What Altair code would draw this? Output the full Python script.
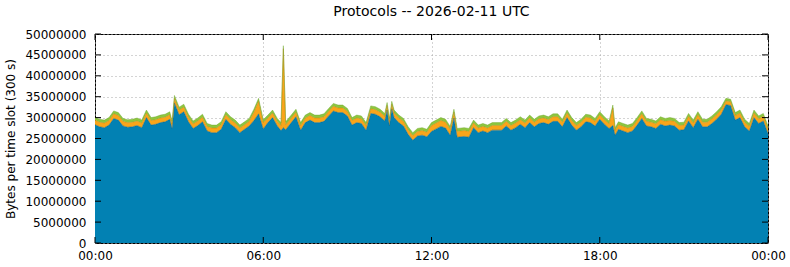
import altair as alt
import pandas as pd

# time of day in minutes
minutes = [
    0, 10, 20, 30, 40, 50, 60, 70, 80, 90,
    100, 110, 120, 130, 140, 150, 160, 165, 170, 180,
    190, 200, 210, 220, 230, 240, 250, 260, 270, 280,
    290, 300, 310, 320, 330, 340, 350, 360, 370, 380,
    390, 398, 403, 408, 420, 430, 440, 450, 460, 470,
    480, 490, 500, 510, 520, 530, 540, 550, 560, 570,
    580, 590, 600, 610, 620, 625, 630, 635, 640, 650,
    660, 670, 680, 690, 700, 710, 720, 730, 740, 750,
    760, 768, 775, 790, 800, 810, 820, 830, 840, 850,
    860, 870, 880, 890, 900, 910, 920, 930, 940, 950,
    960, 970, 980, 990, 1000, 1010, 1020, 1030, 1040, 1050,
    1060, 1070, 1080, 1090, 1100, 1108, 1113, 1120, 1130, 1140,
    1150, 1160, 1170, 1180, 1190, 1200, 1210, 1220, 1230, 1240,
    1250, 1260, 1270, 1280, 1290, 1300, 1310, 1320, 1330, 1340,
    1350, 1360, 1370, 1380, 1390, 1400, 1410, 1420, 1430, 1440,
]

# bytes per slot, in millions
tcp = [
    28.3, 27.8, 27.6, 28.2, 29.8, 29.4, 28.0, 27.7, 27.8, 28.1,
    27.6, 30.0, 28.2, 28.4, 28.8, 29.0, 29.6, 27.4, 33.5, 30.7,
    31.4, 29.0, 27.4, 28.1, 29.0, 26.8, 26.4, 26.4, 27.2, 29.6,
    28.4, 27.6, 26.4, 27.2, 28.0, 29.3, 30.9, 27.3, 28.8, 30.0,
    28.0, 26.9, 27.6, 27.1, 28.8, 30.2, 27.0, 28.8, 29.4, 28.8,
    28.8, 29.1, 30.4, 31.6, 31.2, 31.2, 30.4, 28.2, 28.8, 28.6,
    27.0, 31.0, 30.8, 30.2, 29.2, 31.8, 28.0, 32.1, 30.0, 28.8,
    28.0, 26.0, 24.6, 25.6, 25.8, 25.4, 26.7, 27.3, 27.9, 27.5,
    25.8, 29.9, 25.3, 25.5, 25.3, 27.6, 26.4, 26.8, 26.4, 27.0,
    27.0, 27.0, 28.0, 27.0, 27.6, 28.4, 27.6, 28.8, 27.8, 28.6,
    28.8, 28.4, 29.1, 29.1, 27.8, 30.0, 28.2, 27.0, 27.8, 29.0,
    28.8, 28.0, 29.6, 28.4, 27.4, 28.1, 25.8, 27.2, 26.8, 26.4,
    26.8, 28.2, 29.8, 28.0, 27.8, 27.4, 28.4, 28.0, 28.2, 28.0,
    27.0, 27.1, 29.2, 27.6, 29.6, 27.8, 27.8, 28.6, 29.6, 30.8,
    33.1, 32.9, 29.4, 30.0, 27.8, 26.8, 30.0, 28.6, 29.2, 26.2,
]

udp = [
    1.1, 1.1, 1.1, 1.1, 1.1, 1.1, 1.1, 1.1, 1.1, 1.1,
    1.1, 1.1, 1.1, 1.1, 1.1, 1.1, 1.1, 1.1, 1.1, 1.1,
    1.1, 1.1, 1.1, 1.1, 1.1, 1.1, 1.1, 1.1, 1.1, 1.1,
    1.1, 1.1, 1.1, 1.1, 1.1, 2.0, 3.0, 1.5, 1.1, 1.1,
    1.1, 1.2, 18.9, 1.2, 1.1, 1.1, 1.1, 1.1, 1.1, 1.1,
    1.1, 1.1, 1.1, 1.1, 1.1, 1.1, 1.1, 1.1, 1.1, 1.1,
    1.1, 1.1, 1.1, 1.1, 1.1, 1.1, 1.1, 1.1, 1.1, 1.1,
    1.1, 1.1, 1.1, 1.1, 1.1, 1.1, 1.4, 1.4, 1.4, 1.4,
    1.4, 1.4, 1.4, 1.4, 1.4, 1.1, 1.1, 1.1, 1.1, 1.1,
    1.1, 1.1, 1.1, 1.1, 1.1, 1.1, 1.1, 1.1, 1.1, 1.1,
    1.1, 1.1, 1.1, 1.1, 1.1, 1.1, 1.1, 1.1, 1.1, 1.1,
    1.1, 1.1, 1.1, 1.1, 1.1, 4.2, 1.1, 1.1, 1.1, 1.1,
    1.1, 1.1, 1.1, 1.1, 1.1, 1.1, 1.1, 1.1, 1.1, 1.1,
    1.1, 1.1, 1.1, 1.1, 1.1, 1.1, 1.1, 1.1, 1.1, 1.1,
    0.9, 0.9, 1.1, 1.1, 1.1, 1.1, 1.1, 1.1, 1.1, 1.1,
]

other = [
    0.7, 0.7, 0.7, 0.7, 0.7, 0.7, 0.7, 0.7, 0.7, 0.7,
    0.7, 0.7, 0.7, 0.7, 0.7, 0.7, 0.7, 0.7, 0.7, 0.7,
    0.7, 0.7, 0.7, 0.7, 0.7, 0.7, 0.7, 0.7, 0.7, 0.7,
    0.7, 0.7, 0.7, 0.7, 0.7, 0.7, 0.7, 0.7, 0.7, 0.7,
    0.7, 0.7, 0.7, 0.7, 0.7, 0.7, 0.7, 0.7, 0.7, 0.7,
    0.7, 0.7, 0.7, 0.7, 0.7, 0.7, 0.7, 0.7, 0.7, 0.7,
    0.7, 0.7, 0.7, 0.7, 0.7, 0.7, 0.7, 0.7, 0.7, 0.7,
    0.7, 0.7, 0.7, 0.7, 0.7, 0.7, 0.7, 0.7, 0.7, 0.7,
    0.7, 0.7, 0.7, 0.7, 0.7, 0.7, 0.7, 0.7, 0.7, 0.7,
    0.7, 0.7, 0.7, 0.7, 0.7, 0.7, 0.7, 0.7, 0.7, 0.7,
    0.7, 0.7, 0.7, 0.7, 0.7, 0.7, 0.7, 0.7, 0.7, 0.7,
    0.7, 0.7, 0.7, 0.7, 0.7, 0.7, 0.7, 0.7, 0.7, 0.7,
    0.7, 0.7, 0.7, 0.7, 0.7, 0.7, 0.7, 0.7, 0.7, 0.7,
    0.7, 0.7, 0.7, 0.7, 0.7, 0.7, 0.7, 0.7, 0.7, 0.7,
    0.6, 0.6, 0.7, 0.7, 0.7, 0.7, 0.7, 0.7, 0.7, 0.7,
]

series_names = ["TCP", "UDP", "Other"]
fill_colors = ["#0281b3", "#f9a51a", "#8dc63f"]
edge_colors = ["#005a80", "#c87c00", "#6fa62c"]

y_ticks = [0, 5000000, 10000000, 15000000, 20000000, 25000000,
           30000000, 35000000, 40000000, 45000000, 50000000]
x_ticks = [0, 6, 12, 18, 24]

rows = []
for i, m in enumerate(minutes):
    for o, (name, arr) in enumerate(zip(series_names, [tcp, udp, other])):
        rows.append({"hour": m / 60.0, "series": name, "ord": o, "bytes": arr[i] * 1e6})
df = pd.DataFrame(rows)

W, H = 673, 209
FONT = "DejaVu Sans"

x_scale = alt.Scale(domain=[0, 24], nice=False, zero=False)
y_scale = alt.Scale(domain=[0, 50000000], nice=False)

x_axis = alt.Axis(values=x_ticks, title=None, grid=True, gridDash=[1, 3], gridColor="#a8a8a8",
                  ticks=False, domain=False, labelPadding=7, labelFontSize=12, labelFont=FONT,
                  labelColor="black", labelFlush=False,
                  labelExpr="(datum.value % 24 < 10 ? '0' : '') + (datum.value % 24) + ':00'")
y_axis = alt.Axis(values=y_ticks, format="d", title="Bytes per time slot (300 s)",
                  grid=True, gridDash=[1, 3], gridColor="#a8a8a8", ticks=False, domain=False,
                  labelPadding=9, labelFontSize=12, labelFont=FONT, labelColor="black",
                  labelFlush=False,
                  titleFontSize=12, titleFont=FONT, titleFontWeight="normal", titleColor="black",
                  titlePadding=7)

stacked = alt.Chart(df).transform_stack(
    stack="bytes", groupby=["hour"], as_=["y0", "y1"],
    sort=[alt.SortField("ord", order="ascending")],
)

area = stacked.mark_area(interpolate="linear").encode(
    x=alt.X("hour:Q", scale=x_scale, axis=x_axis),
    y=alt.Y("y1:Q", scale=y_scale, axis=y_axis),
    y2="y0:Q",
    color=alt.Color("series:N", scale=alt.Scale(domain=series_names, range=fill_colors), legend=None),
)

edges = stacked.mark_line(interpolate="linear", strokeWidth=0.8, opacity=0.55).encode(
    x=alt.X("hour:Q", scale=x_scale, axis=x_axis),
    y=alt.Y("y1:Q", scale=y_scale, axis=y_axis),
    stroke=alt.Stroke("series:N", scale=alt.Scale(domain=series_names, range=edge_colors), legend=None),
)

ydf = pd.DataFrame({"v": y_ticks})
xdf = pd.DataFrame({"h": x_ticks})

tick_left = alt.Chart(ydf).mark_rule(color="black", strokeWidth=1).encode(
    y=alt.Y("v:Q", scale=y_scale, axis=y_axis), x=alt.value(0), x2=alt.value(6))
tick_right = alt.Chart(ydf).mark_rule(color="black", strokeWidth=1).encode(
    y=alt.Y("v:Q", scale=y_scale, axis=y_axis), x=alt.value(W - 6), x2=alt.value(W))
tick_bottom = alt.Chart(xdf).mark_rule(color="black", strokeWidth=1).encode(
    x=alt.X("h:Q", scale=x_scale, axis=x_axis), y=alt.value(H - 6), y2=alt.value(H))
tick_top = alt.Chart(xdf).mark_rule(color="black", strokeWidth=1).encode(
    x=alt.X("h:Q", scale=x_scale, axis=x_axis), y=alt.value(0), y2=alt.value(6))

chart = alt.layer(area, edges, tick_left, tick_right, tick_bottom, tick_top).properties(
    width=W, height=H,
    autosize="none",
    padding={"left": 95, "top": 34, "right": 22, "bottom": 24},
    title=alt.TitleParams("Protocols -- 2026-02-11 UTC", fontSize=14, font=FONT,
                          fontWeight="normal", anchor="middle", color="black", offset=9),
).configure(font=FONT).configure_view(stroke="black", strokeWidth=1)

chart.save("out.html", embed_options={"renderer": "svg", "actions": False})
